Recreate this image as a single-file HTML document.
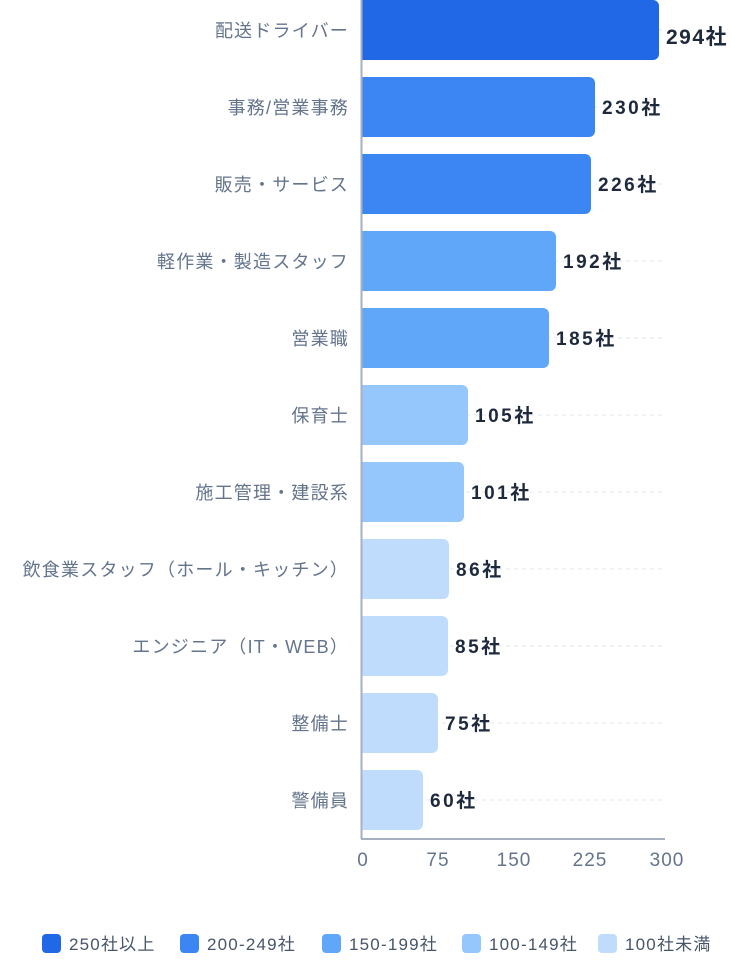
<!DOCTYPE html>
<html><head><meta charset="utf-8"><style>
html,body{margin:0;padding:0;background:#fff;width:750px;height:980px;overflow:hidden}
svg text{font-family:"Liberation Sans","Noto Sans CJK JP",sans-serif}
</style></head><body>
<svg width="750" height="980" xmlns="http://www.w3.org/2000/svg">
<g stroke="#e2e8f0" stroke-dasharray="4 4" stroke-width="1">
<line x1="362" x2="665" y1="30" y2="30"/><line x1="362" x2="665" y1="107" y2="107"/><line x1="362" x2="665" y1="184" y2="184"/><line x1="362" x2="665" y1="261" y2="261"/><line x1="362" x2="665" y1="338" y2="338"/><line x1="362" x2="665" y1="415" y2="415"/><line x1="362" x2="665" y1="492" y2="492"/><line x1="362" x2="665" y1="569" y2="569"/><line x1="362" x2="665" y1="646" y2="646"/><line x1="362" x2="665" y1="723" y2="723"/><line x1="362" x2="665" y1="800" y2="800"/>
</g>
<g>
<path d="M362 0H653a6 6 0 0 1 6 6V54a6 6 0 0 1 -6 6H362Z" fill="#2168e6"/>
<path d="M362 77H589a6 6 0 0 1 6 6V131a6 6 0 0 1 -6 6H362Z" fill="#3b86f2"/>
<path d="M362 154H585a6 6 0 0 1 6 6V208a6 6 0 0 1 -6 6H362Z" fill="#3b86f2"/>
<path d="M362 231H550a6 6 0 0 1 6 6V285a6 6 0 0 1 -6 6H362Z" fill="#60a7fa"/>
<path d="M362 308H543a6 6 0 0 1 6 6V362a6 6 0 0 1 -6 6H362Z" fill="#60a7fa"/>
<path d="M362 385H462a6 6 0 0 1 6 6V439a6 6 0 0 1 -6 6H362Z" fill="#95c6fc"/>
<path d="M362 462H458a6 6 0 0 1 6 6V516a6 6 0 0 1 -6 6H362Z" fill="#95c6fc"/>
<path d="M362 539H443a6 6 0 0 1 6 6V593a6 6 0 0 1 -6 6H362Z" fill="#bfdcfd"/>
<path d="M362 616H442a6 6 0 0 1 6 6V670a6 6 0 0 1 -6 6H362Z" fill="#bfdcfd"/>
<path d="M362 693H432a6 6 0 0 1 6 6V747a6 6 0 0 1 -6 6H362Z" fill="#bfdcfd"/>
<path d="M362 770H417a6 6 0 0 1 6 6V824a6 6 0 0 1 -6 6H362Z" fill="#bfdcfd"/>
</g>
<line x1="361.5" y1="0" x2="361.5" y2="839" stroke="#a6b0bf" stroke-width="2"/>
<line x1="361" y1="839" x2="665" y2="839" stroke="#a6b0bf" stroke-width="2"/>
<g font-size="18" fill="#64748b" text-anchor="end" letter-spacing="1.2">
<text x="349" y="37">配送ドライバー</text>
<text x="349" y="114">事務/営業事務</text>
<text x="349" y="191">販売・サービス</text>
<text x="349" y="268">軽作業・製造スタッフ</text>
<text x="349" y="345">営業職</text>
<text x="349" y="422">保育士</text>
<text x="349" y="499">施工管理・建設系</text>
<text x="349" y="576">飲食業スタッフ（ホール・キッチン）</text>
<text x="349" y="653">エンジニア（IT・WEB）</text>
<text x="349" y="730">整備士</text>
<text x="349" y="807">警備員</text>
</g>
<g font-weight="bold" fill="#1e293b">
<text x="666" y="44" font-size="21" letter-spacing="1.5">294社</text>
<g font-size="19" letter-spacing="2.5">
<text x="602" y="114">230社</text>
<text x="598" y="191">226社</text>
<text x="563" y="268">192社</text>
<text x="556" y="345">185社</text>
<text x="475" y="422">105社</text>
<text x="471" y="499">101社</text>
<text x="456" y="576">86社</text>
<text x="455" y="653">85社</text>
<text x="445" y="730">75社</text>
<text x="430" y="807">60社</text>
</g></g>
<g font-size="19" fill="#64748b" text-anchor="middle" letter-spacing="1">
<text x="363" y="866">0</text><text x="438" y="866">75</text><text x="514" y="866">150</text><text x="590" y="866">225</text><text x="667" y="866">300</text>
</g>
<g>
<rect x="42" y="934" width="19" height="19" rx="4" fill="#2168e6"/>
<rect x="180" y="934" width="19" height="19" rx="4" fill="#3b86f2"/>
<rect x="322" y="934" width="19" height="19" rx="4" fill="#60a7fa"/>
<rect x="462" y="934" width="19" height="19" rx="4" fill="#95c6fc"/>
<rect x="598" y="934" width="19" height="19" rx="4" fill="#bfdcfd"/>
</g>
<g font-size="17" fill="#475569" letter-spacing="1.2">
<text x="69" y="950">250社以上</text>
<text x="207" y="950">200-249社</text>
<text x="349" y="950">150-199社</text>
<text x="489" y="950">100-149社</text>
<text x="625" y="950">100社未満</text>
</g>
</svg>
</body></html>
